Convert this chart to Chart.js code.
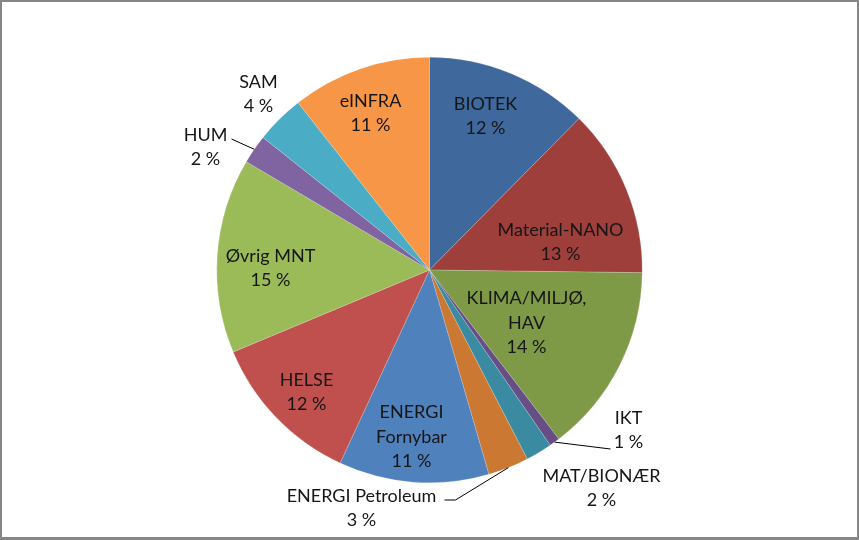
<!DOCTYPE html>
<html>
<head>
<meta charset="utf-8">
<script src="https://cdn.jsdelivr.net/npm/chart.js@4.4.0/dist/chart.umd.min.js"></script>
<style>
  body { margin: 0; background: #fff; }
  #wrap { width: 859px; height: 540px; box-sizing: border-box; border: 2px solid #868686; border-bottom-width: 3px; }
</style>
</head>
<body>
<div id="wrap"><canvas id="pieChart" width="855" height="535"></canvas></div>
<script>
/*
    Fordeling per fagområde (pie)
*/
var categories = ["BIOTEK", "Material-NANO", "KLIMA/MILJØ, HAV", "IKT", "MAT/BIONÆR",
    "ENERGI Petroleum", "ENERGI Fornybar", "HELSE", "Øvrig MNT", "HUM", "SAM", "eINFRA"];
var shares = [12.4, 12.8, 14.4, 0.8, 2.0, 3.1, 11.4, 11.8, 14.8, 2.2, 3.7, 10.6];
var percentLabels = ["12 %", "13 %", "14 %", "1 %", "2 %", "3 %", "11 %", "12 %", "15 %", "2 %", "4 %", "11 %"];

/* label text lines (data label wording as shown in the chart) */
var labelLines = [["BIOTEK"], ["Material-NANO"], ["KLIMA/MILJØ,", "HAV"], ["IKT"], ["MAT/BIONÆR"],
    ["ENERGI Petroleum"], ["ENERGI", "Fornybar"], ["HELSE"], ["Øvrig MNT"], ["HUM"], ["SAM"], ["eINFRA"]];

/* Office 2007 palette: darker shades first, then the standard ones */
var colors = ["#3F689C", "#9E3F3C", "#7E9A47", "#674F85", "#3A8BA2", "#CB7833",
    "#4F81BD", "#C0504D", "#9BBB59", "#8064A2", "#4BACC6", "#F79646"];

/* label block centre, offset from pie centre (px) */
var labelOffsets = [[56, -154], [131, -28], [97, 53], [199, 160], [172, 218], [-68, 238],
    [-18, 167], [-123, 122], [-159, -2], [-224, -123], [-171, -176], [-59, -157]];

var labelPlugin = {
    id: 'pieLabels',
    afterDraw: function (chart) {
        var ctx = chart.ctx;
        var meta = chart.getDatasetMeta(0);
        var cx = meta.data[0].x, cy = meta.data[0].y;
        ctx.save();
        ctx.font = '18px Lato, "Liberation Sans", sans-serif';
        ctx.fillStyle = '#161616';
        ctx.textAlign = 'center';
        ctx.textBaseline = 'middle';
        var lh = 24.5;
        meta.data.forEach(function (arc, i) {
            var lines = labelLines[i].concat([percentLabels[i]]);
            var x = cx + labelOffsets[i][0], y = cy + labelOffsets[i][1];
            var top = y - (lines.length - 1) * lh / 2;
            lines.forEach(function (t, k) { ctx.fillText(t, x, top + k * lh); });
        });
        /* leader lines for small slices */
        ctx.strokeStyle = '#000';
        ctx.lineWidth = 1;
        function edge(i) {
            var a = meta.data[i];
            var m = (a.startAngle + a.endAngle) / 2;
            return [a.x + Math.cos(m) * a.outerRadius, a.y + Math.sin(m) * a.outerRadius];
        }
        var p;
        // IKT
        p = edge(3);
        ctx.beginPath(); ctx.moveTo(p[0], p[1]); ctx.lineTo(cx + 181, cy + 179); ctx.stroke();
        // ENERGI Petroleum
        p = edge(5);
        ctx.beginPath(); ctx.moveTo(p[0], p[1]); ctx.lineTo(cx + 26, cy + 230); ctx.lineTo(cx + 15, cy + 230); ctx.stroke();
        // HUM
        p = edge(9);
        ctx.beginPath(); ctx.moveTo(p[0], p[1]); ctx.lineTo(cx - 198, cy - 131); ctx.stroke();
        ctx.restore();
    }
};

var ctxP = document.getElementById("pieChart").getContext('2d');
var myPieChart = new Chart(ctxP, {
    type: 'pie',
    data: {
        labels: categories,
        datasets: [{
            data: shares,
            backgroundColor: colors,
            borderColor: 'rgba(255, 255, 255, 0.35)',
            borderWidth: 0.5
        }]
    },
    options: {
        responsive: false,
        animation: false,
        layout: { padding: { top: 55, bottom: 54, left: 0, right: 0 } },
        plugins: {
            legend: { display: false },
            tooltip: { enabled: false }
        }
    },
    plugins: [labelPlugin]
});
</script>
</body>
</html>
